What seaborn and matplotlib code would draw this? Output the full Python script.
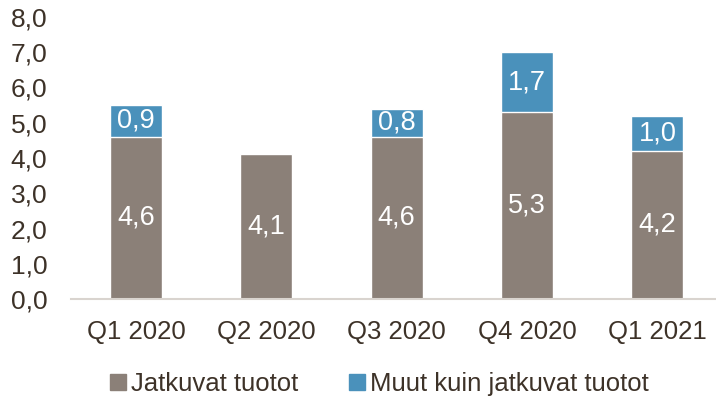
import numpy as np
import pandas as pd
import matplotlib
matplotlib.use('Agg')
import matplotlib.pyplot as plt
import seaborn as sns
from matplotlib.patches import Patch

quarters = ['Q1 2020', 'Q2 2020', 'Q3 2020', 'Q4 2020', 'Q1 2021']
jatkuvat = [4.6, 4.1, 4.6, 5.3, 4.2]
muut = [0.9, 0.0, 0.8, 1.7, 1.0]

grey = '#8b8078'
blue = '#4a91bb'
text_col = '#3d3228'

sns.set_theme(style='white')
plt.rcParams['font.family'] = ['Liberation Sans', 'DejaVu Sans']

df = pd.DataFrame({'quarter': quarters, 'jatkuvat': jatkuvat, 'muut': muut})
df['total'] = df['jatkuvat'] + df['muut']

fig, ax = plt.subplots(figsize=(7.16, 4.0), dpi=100)
fig.subplots_adjust(left=0.099, right=1.0, top=0.9575, bottom=0.2525)

# stacked: total first (blue), then the base series over it (grey)
sns.barplot(data=df, x='quarter', y='total', color=blue, width=0.4,
            saturation=1, ax=ax)
sns.barplot(data=df, x='quarter', y='jatkuvat', color=grey, width=0.4,
            saturation=1, ax=ax)

for i, row in df.iterrows():
    ax.text(i, row['jatkuvat'] / 2, f"{row['jatkuvat']:.1f}".replace('.', ','),
            ha='center', va='center', color='white', fontsize=19.5)
    if row['muut'] > 0:
        ax.text(i, row['jatkuvat'] + row['muut'] / 2,
                f"{row['muut']:.1f}".replace('.', ','),
                ha='center', va='center', color='white', fontsize=19.5)

ax.set_ylim(0, 8)
ax.set_xlim(-0.5, 4.45)
ax.set_yticks(np.arange(0, 9, 1))
ax.set_yticklabels([f"{v:.1f}".replace('.', ',') for v in np.arange(0, 9, 1)])
ax.set_xlabel('')
ax.set_ylabel('')
ax.tick_params(axis='y', length=0, pad=17, labelsize=19, labelcolor=text_col)
ax.tick_params(axis='x', length=0, pad=15, labelsize=18.5, labelcolor=text_col)

for s in ['top', 'right', 'left']:
    ax.spines[s].set_visible(False)
ax.spines['bottom'].set_color('#d9d4cf')
ax.spines['bottom'].set_linewidth(1.5)

handles = [Patch(color=grey, label='Jatkuvat tuotot'),
           Patch(color=blue, label='Muut kuin jatkuvat tuotot')]
leg = fig.legend(handles=handles, loc='center', bbox_to_anchor=(0.53, 0.04),
                 ncol=2, frameon=False, fontsize=18.5, handlelength=0.6,
                 handleheight=0.6, handletextpad=0.2, columnspacing=2.0)
for t in leg.get_texts():
    t.set_color(text_col)

fig.savefig('out.png', dpi=100)
